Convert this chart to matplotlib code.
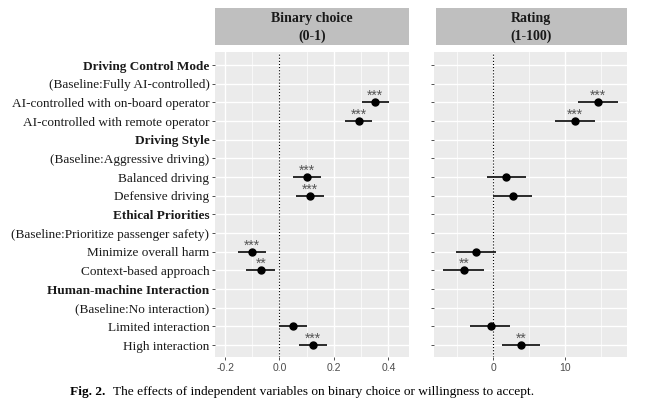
import matplotlib
matplotlib.use('Agg')
import matplotlib.pyplot as plt
from matplotlib.ticker import MultipleLocator, FuncFormatter
import numpy as np

# row labels, top to bottom
labels = ['Driving Control Mode', '(Baseline:Fully AI-controlled)',
          'AI-controlled with on-board operator', 'AI-controlled with remote operator',
          'Driving Style', '(Baseline:Aggressive driving)', 'Balanced driving',
          'Defensive driving', 'Ethical Priorities',
          '(Baseline:Prioritize passenger safety)', 'Minimize overall harm',
          'Context-based approach', 'Human-machine Interaction',
          '(Baseline:No interaction)', 'Limited interaction', 'High interaction']
headers = ['Driving Control Mode', 'Driving Style', 'Ethical Priorities',
           'Human-machine Interaction']

# rows that carry an estimate (1-based, top to bottom)
est_rows = [3, 4, 7, 8, 11, 12, 15, 16]

# binary choice (0-1)
bin_est = [0.352, 0.291, 0.101, 0.111, -0.100, -0.069, 0.049, 0.122]
bin_lo = [0.303, 0.240, 0.050, 0.059, -0.153, -0.122, -0.003, 0.071]
bin_hi = [0.404, 0.340, 0.153, 0.163, -0.051, -0.018, 0.101, 0.174]
bin_sig = ['***', '***', '***', '***', '***', '**', '', '***']

# rating (1-100)
rat_est = [14.65, 11.40, 1.86, 2.70, -2.41, -4.04, -0.37, 3.86]
rat_lo = [11.86, 8.60, -0.84, 0.00, -5.20, -6.97, -3.25, 1.17]
rat_hi = [17.44, 14.18, 4.65, 5.44, 0.33, -1.26, 2.42, 6.60]
rat_sig = ['***', '***', '', '', '', '**', '', '**']

W, H = 658, 416
fig = plt.figure(figsize=(W / 100, H / 100), dpi=100)

serif = 'Liberation Serif'
sans = 'Liberation Sans'


def px(x0, y0, x1, y1):
    return [x0 / W, 1 - y1 / H, (x1 - x0) / W, (y1 - y0) / H]


panels = [
    dict(rect=px(215, 52, 409, 357), strip=px(215, 8, 409, 45),
         title='Binary choice\n(0-1)', est=bin_est, lo=bin_lo, hi=bin_hi,
         sig=bin_sig, xlim=(-0.237, 0.476), major=0.2, minor=0.1,
         fmt='{:.1f}'),
    dict(rect=px(434, 52, 627, 357), strip=px(435.5, 8, 626.5, 45),
         title='Rating\n(1-100)', est=rat_est, lo=rat_lo, hi=rat_hi,
         sig=rat_sig, xlim=(-8.27, 18.7), major=10, minor=5,
         fmt='{:.0f}'),
]

rows = np.arange(1, len(labels) + 1)

for i, p in enumerate(panels):
    ax = fig.add_axes(p['rect'])
    ax.set_facecolor('#EBEBEB')
    for s in ax.spines.values():
        s.set_visible(False)
    ax.set_xlim(*p['xlim'])
    ax.set_ylim(16.64, 0.30)
    ax.xaxis.set_major_locator(MultipleLocator(p['major']))
    ax.xaxis.set_minor_locator(MultipleLocator(p['minor']))
    ax.grid(which='major', axis='both', color='white', lw=1.0, zorder=0)
    ax.grid(which='minor', axis='x', color='white', lw=0.5, zorder=0)
    ax.set_axisbelow(True)
    ax.set_yticks(rows)
    ax.tick_params(axis='both', which='major', length=2.5, width=0.6,
                   color='#333333', pad=1.5)
    ax.tick_params(axis='x', which='minor', length=0)
    ax.xaxis.set_major_formatter(FuncFormatter(
        lambda v, pos, f=p['fmt']: f.format(v)))
    for t in ax.get_xticklabels():
        t.set_fontfamily(sans)
        t.set_fontsize(7.5)
        t.set_color('#4D4D4D')
    if i == 0:
        ax.set_yticklabels(labels, fontfamily=serif, fontsize=9.5,
                           color='#1A1A1A')
        for t in ax.get_yticklabels():
            if t.get_text() in headers:
                t.set_fontweight('bold')
    else:
        ax.set_yticklabels([])

    ax.axvline(0, color='black', lw=0.8, ls=(0, (1, 1.8)), zorder=2)
    est = np.array(p['est'])
    ax.hlines(est_rows, p['lo'], p['hi'], color='#1A1A1A', lw=1.3, zorder=3)
    ax.plot(est, est_rows, 'o', color='black', ms=5, zorder=4)
    for x, y, s in zip(est, est_rows, p['sig']):
        if s:
            ax.text(x, y - 0.33, s, ha='center', va='center', fontsize=10,
                    color='#555555', family=sans)

    sax = fig.add_axes(p['strip'])
    sax.set_facecolor('#BFBFBF')
    sax.set_xticks([])
    sax.set_yticks([])
    for s in sax.spines.values():
        s.set_visible(False)
    sax.text(0.5, 0.48, p['title'], ha='center', va='center', fontsize=10,
             fontweight='bold', family=serif, color='#1A1A1A',
             transform=sax.transAxes, linespacing=1.45)

fig.text(70 / W, 1 - 392.5 / H, 'Fig. 2.', fontsize=9.6, fontweight='bold',
         family=serif, va='center', ha='left')
fig.text(113 / W, 1 - 392.5 / H,
         'The effects of independent variables on binary choice or willingness to accept.',
         fontsize=9.6, family=serif, va='center', ha='left')

fig.savefig('out.png', dpi=100)
